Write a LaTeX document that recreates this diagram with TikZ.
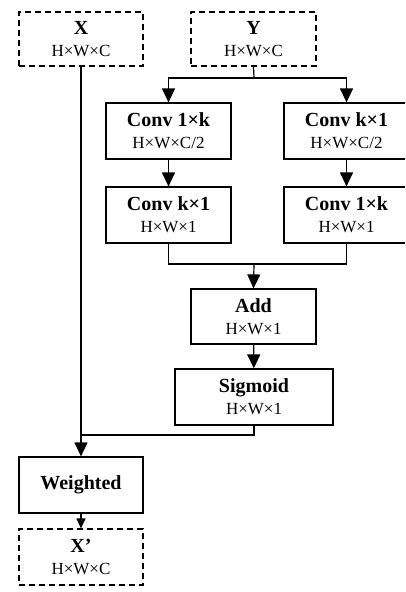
\documentclass[tikz,border=0pt]{standalone}
\usepackage{fontspec}
\setmainfont{Liberation Serif}
\usetikzlibrary{arrows.meta}
\newcommand{\bt}[2]{\textbf{#1}\\{\fontsize{17}{22}\selectfont #2}}
\begin{document}
\begin{tikzpicture}[x=1pt,y=-1pt,
  box/.style={draw,line width=1.2pt,inner sep=0pt,align=center,minimum width=125pt,minimum height=56pt,font=\fontsize{20}{22}\selectfont},
  dbox/.style={box,dash pattern=on 6pt off 4pt,minimum width=124pt,minimum height=54pt},
  arr/.style={line width=1.2pt,-{Triangle[width=13pt,length=14pt]}},
  sarr/.style={line width=1.2pt,-{Triangle[width=9pt,length=10pt]}},
  ln/.style={line width=1.2pt}]
\useasboundingbox (0,0) rectangle (405,592);
\clip (0,0) rectangle (405,592);
\node[dbox] (X) at (81,39) {\bt{X}{H×W×C}};
\node[dbox,minimum width=125pt] (Y) at (253.5,39) {\bt{Y}{H×W×C}};
\node[box] (c1) at (168.5,131) {\bt{Conv 1×k}{H×W×C/2}};
\node[box] (c2) at (346.5,131) {\bt{Conv k×1}{H×W×C/2}};
\node[box] (c3) at (168.5,215) {\bt{Conv k×1}{H×W×1}};
\node[box] (c4) at (346.5,215) {\bt{Conv 1×k}{H×W×1}};
\node[box,minimum height=55pt] (add) at (253.5,316.5) {\bt{Add}{H×W×1}};
\node[box,minimum width=158pt] (sig) at (254,397) {\bt{Sigmoid}{H×W×1}};
\node[box,minimum width=124pt,font=\fontsize{20}{22}\selectfont\bfseries] (w) at (81,485) {Weighted};
\node[dbox,minimum height=56pt] (Xp) at (81,557) {\bt{X’}{H×W×C}};
\coordinate (s) at (254,78);
\coordinate (m) at (254,264);
\coordinate (j) at (81,435);
\draw[ln] (Y.south) -- (s);
\draw[arr] (s) -| (c1.north);
\draw[arr] (s) -| (c2.north);
\draw[arr] (c1) -- (c3);
\draw[arr] (c2) -- (c4);
\draw[ln] (c3.south) |- (m);
\draw[ln] (c4.south) |- (m);
\draw[arr] (m) -- (add.north);
\draw[arr] (add) -- (sig);
\draw[arr] (X.south) -- (w.north);
\draw[ln] (sig.south) |- (j);
\draw[sarr] (w) -- (Xp);
\end{tikzpicture}
\end{document}
